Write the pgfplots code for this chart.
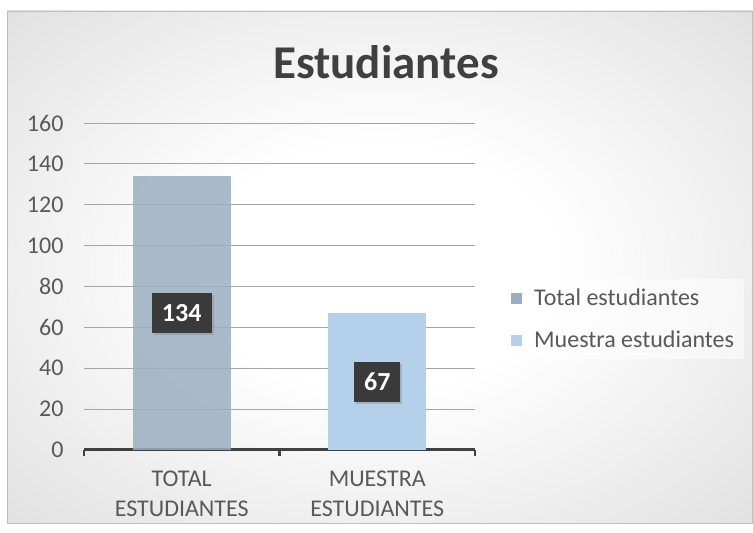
\documentclass[border=0pt]{standalone}
\usepackage{fontspec}
\setmainfont{Carlito}
\usepackage{pgfplots}
\pgfplotsset{compat=1.18}
\usetikzlibrary{shadows}
\definecolor{barA}{HTML}{9AAEC2}
\definecolor{barB}{HTML}{B4D0EB}
\definecolor{axgray}{HTML}{404040}
\definecolor{txtgray}{HTML}{595959}
\definecolor{gridgray}{HTML}{A6A6A6}
\definecolor{lblbox}{HTML}{3A3A3A}
\pgfdeclareradialshading{bgshade}{\pgfpoint{0bp}{0bp}}{%
  color(0bp)=(white); color(12bp)=(white); color(50bp)=(black!19); color(72bp)=(black!26)}
\begin{document}
\begin{tikzpicture}[x=1pt,y=1pt]
\fill[white] (0,0) rectangle (753,533);
\shade[shading=bgshade] (7,10) rectangle (752,522);
\draw[black!25] (7,10) rectangle (752,522);
\node[font=\fontsize{47}{50}\selectfont\bfseries, text=axgray] at (386,471) {Estudiantes};
\begin{axis}[
  at={(84pt,83pt)}, anchor=south west,
  scale only axis, width=391pt, height=327pt,
  xmin=-0.5, xmax=1.5, ymin=0, ymax=160,
  ytick={0,20,...,160},
  ymajorgrids, grid style={gridgray, line width=0.8pt},
  xtick={0,1},
  xticklabels={{TOTAL\\ESTUDIANTES},{MUESTRA\\ESTUDIANTES}},
  xticklabel style={align=center, text=txtgray, font=\fontsize{24}{30}\selectfont, yshift=-13pt},
  minor xtick={-0.5,0.5,1.5},
  major x tick style={draw=none},
  minor x tick style={axgray, line width=2.5pt},
  minor tick length=6pt,
  xtick align=outside,
  axis x line*=bottom, axis y line*=left,
  x axis line style={axgray, line width=3pt, -},
  y axis line style={draw=none},
  ytick style={draw=none},
  yticklabel style={text=txtgray, font=\fontsize{24}{26}\selectfont, xshift=-17pt},
  /pgf/number format/assume math mode=true,
  legend style={at={(1,0.4)}, anchor=west, xshift=28pt, fill=white, fill opacity=0.55, text opacity=1, draw=none,
    font=\fontsize{24}{26}\selectfont, text=txtgray, row sep=20pt, inner xsep=8pt, inner ysep=8pt, cells={anchor=west}},
]
\addplot[ybar, bar width=0.5, bar shift=0pt, fill=barA, draw=none, fill opacity=0.85,
  legend image code/.code={\fill[barA, fill opacity=1] (0pt,-5.5pt) rectangle (11pt,5.5pt); \path (21pt,0pt);}] coordinates {(0,134)};
\addlegendentry{Total estudiantes}
\addplot[ybar, bar width=0.5, bar shift=0pt, fill=barB, draw=none,
  legend image code/.code={\fill[barB, fill opacity=1] (0pt,-5.5pt) rectangle (11pt,5.5pt); \path (21pt,0pt);}] coordinates {(1,67)};
\addlegendentry{Muestra estudiantes}
\addplot[draw=none, mark=none, forget plot, nodes near coords, point meta=explicit symbolic,
  nodes near coords align=center,
  every node near coord/.append style={anchor=center, fill=lblbox, text=white,
    font=\fontsize{26}{28}\selectfont\bfseries, minimum height=40pt, inner xsep=10pt,
    drop shadow={opacity=0.35, shadow xshift=2pt, shadow yshift=-2pt}}]
  coordinates {(0,67) [134] (1,33.5) [67]};
\end{axis}
\end{tikzpicture}
\end{document}
